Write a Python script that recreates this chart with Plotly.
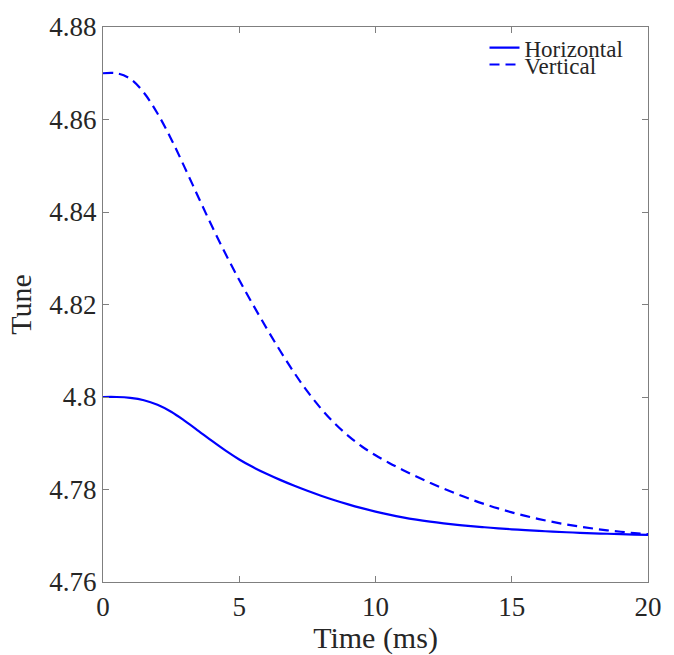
import plotly.graph_objects as go

time_ms = [0, 0.5, 1, 1.5, 2, 2.5, 3, 3.5, 4, 4.5, 5, 5.5, 6, 6.5, 7, 7.5, 8, 8.5, 9, 9.5,
           10, 10.5, 11, 11.5, 12, 12.5, 13, 13.5, 14, 14.5, 15, 15.5, 16, 16.5, 17, 17.5,
           18, 18.5, 19, 19.5, 20]
horizontal = [4.80000, 4.80000, 4.79980, 4.79930, 4.79830, 4.79680, 4.79485, 4.79270, 4.79050,
              4.78840, 4.78650, 4.78485, 4.78340, 4.78208, 4.78086, 4.77972, 4.77866, 4.77768,
              4.77678, 4.77596, 4.77522, 4.77456, 4.77398, 4.77348, 4.77305, 4.77268, 4.77236,
              4.77208, 4.77184, 4.77161, 4.77140, 4.77121, 4.77104, 4.77089, 4.77076, 4.77064,
              4.77053, 4.77043, 4.77034, 4.77026, 4.77019]
vertical = [4.8700, 4.8700, 4.8688, 4.8658, 4.8613, 4.8558, 4.8496, 4.8432, 4.8369, 4.8309,
            4.8253, 4.8200, 4.8149, 4.8100, 4.8054, 4.8012, 4.7975, 4.7943, 4.7916, 4.7893,
            4.78740, 4.78575, 4.78423, 4.78281, 4.78147, 4.78020, 4.77900, 4.77788, 4.77685,
            4.77591, 4.77506, 4.77429, 4.77360, 4.77299, 4.77245, 4.77197, 4.77155, 4.77118,
            4.77086, 4.77058, 4.77034]

x_ticks = [0, 5, 10, 15, 20]
x_ticklabels = ["0", "5", "10", "15", "20"]
y_ticks = [4.76, 4.78, 4.80, 4.82, 4.84, 4.86, 4.88]
y_ticklabels = ["4.76", "4.78", "4.8", "4.82", "4.84", "4.86", "4.88"]

FONT = "Liberation Serif, Times New Roman, serif"
BLUE = "#0000ff"
AXIS = "#7f7f7f"
TEXT = "#262626"

fig = go.Figure()
fig.add_trace(go.Scatter(x=time_ms, y=horizontal, mode="lines", name="Horizontal",
                         line=dict(color=BLUE, width=2.2, shape="spline"), legend="legend"))
fig.add_trace(go.Scatter(x=time_ms, y=vertical, mode="lines", name="Vertical",
                         line=dict(color=BLUE, width=2.2, dash="10px,6px", shape="spline"),
                         legend="legend2"))

axis_common = dict(showline=True, linecolor=AXIS, linewidth=1.2, mirror="ticks",
                   ticks="inside", ticklen=6, tickcolor=AXIS, showgrid=False, zeroline=False,
                   tickfont=dict(family=FONT, size=27, color=TEXT))

fig.update_xaxes(range=[0, 20], tickvals=x_ticks, ticktext=x_ticklabels,
                 title=dict(text="Time (ms)", font=dict(family=FONT, size=30, color=TEXT), standoff=0),
                 **axis_common)
fig.update_yaxes(range=[4.76, 4.88], tickvals=y_ticks, ticktext=y_ticklabels,
                 title=dict(text="Tune", font=dict(family=FONT, size=30, color=TEXT), standoff=8),
                 **axis_common)

legend_style = dict(font=dict(family=FONT, size=23, color=TEXT), bgcolor="rgba(0,0,0,0)",
                    borderwidth=0, xanchor="left", yanchor="middle")
fig.update_layout(
    width=674, height=655,
    margin=dict(l=103, r=18, t=21, b=73),
    paper_bgcolor="white", plot_bgcolor="white",
    showlegend=True,
    legend=dict(x=0.700, y=0.9626, **legend_style),
    legend2=dict(x=0.700, y=0.9323, **legend_style),
)

fig.write_html("out.html", config={"displayModeBar": False},
               post_script="document.body.style.margin='0';document.body.style.padding='0';")
